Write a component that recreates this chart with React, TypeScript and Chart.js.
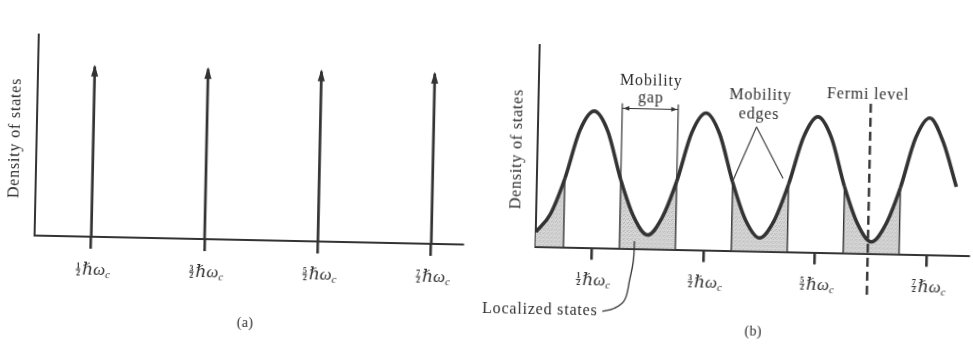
import React, { useEffect, useRef } from "react";
import { Chart, registerables } from "chart.js";

Chart.register(...registerables);

// ---------------- Panel (a): ideal Landau levels (delta functions) ----------------
const landauLevels = [0.5, 1.5, 2.5, 3.5]; // energy in units of ħω_c
const levelNumerators = ["1", "3", "5", "7"]; // tick labels: n/2 ħω_c
const deltaHeights = [8.45, 8.45, 8.45, 8.45];

// ---------------- Panel (b): broadened levels ----------------
const energyB = [
  0, 0.125, 0.25, 0.375, 0.5, 0.625, 0.75, 0.875, 1.0, 1.125, 1.25, 1.375, 1.5, 1.625, 1.75, 1.875,
  2.0, 2.125, 2.25, 2.375, 2.5, 2.625, 2.75, 2.875, 3.0, 3.125, 3.25, 3.375, 3.5, 3.625, 3.75,
];
const dosB = [
  0.72, 1.6, 3.4, 5.8, 6.78, 5.8, 3.4, 1.55, 0.69, 1.55, 3.38, 5.8, 6.8, 5.78, 3.4, 1.5,
  0.66, 1.5, 3.35, 5.7, 6.73, 5.7, 3.3, 1.45, 0.58, 1.45, 3.3, 5.75, 6.79, 5.6, 3.4,
];
const mobilityEdges = [0.25, 0.75, 1.25, 1.75, 2.25, 2.75, 3.25];
const localizedBands = [
  [0, 0.25],
  [0.75, 1.25],
  [1.75, 2.25],
  [2.75, 3.25],
];
const gapEdges = [0.75, 1.25];
const gapTop = 7.2;
const gapArrowLevel = 6.95;
const edgePointerX = [1.754, 1.953, 2.2];
const edgePointerY = [3.5, 6.17, 3.64];
const fermiLevel = 2.97;
const fermiSpan = [-2.05, 7.47];
const leaderX = [0.61, 0.717, 0.806, 0.847, 0.878, 0.883];
const leaderY = [-3.15, -2.98, -2.57, -1.58, -0.59, 0.37];
const labelsB = [
  { text: "Mobility", x: 1.0, y: 8.34 },
  { text: "gap", x: 1.0, y: 7.48 },
  { text: "Mobility", x: 1.98, y: 7.72 },
  { text: "edges", x: 1.97, y: 6.79 },
  { text: "Fermi level", x: 2.94, y: 7.9 },
];
const localizedLabel = { text: "Localized states", x: 0.56, y: -3.15 };

const INK = "#333333";
const TEXT = "#2e2e2e";
const SERIF = '"Liberation Serif", "DejaVu Serif", serif';

function dosAt(e: number) {
  const i = energyB.indexOf(e);
  return dosB[i];
}

function isLocalized(e: number) {
  return localizedBands.some(([a, b]) => e >= a && e <= b);
}

// draw text with manual letter spacing
function spacedText(
  ctx: CanvasRenderingContext2D,
  text: string,
  x: number,
  y: number,
  align: "left" | "center" | "right",
  spacing: number
) {
  const chars = Array.from(text);
  const widths = chars.map((c) => ctx.measureText(c).width);
  const total = widths.reduce((s, w) => s + w, 0) + spacing * (chars.length - 1);
  let cx = align === "left" ? x : align === "center" ? x - total / 2 : x - total;
  ctx.textAlign = "left";
  chars.forEach((c, i) => {
    ctx.fillText(c, cx, y);
    cx += widths[i] + spacing;
  });
}

function drawLevelLabel(ctx: CanvasRenderingContext2D, x: number, baseY: number, num: string) {
  ctx.save();
  ctx.fillStyle = TEXT;
  ctx.strokeStyle = TEXT;
  ctx.textBaseline = "alphabetic";
  ctx.textAlign = "center";
  ctx.font = `bold 8px ${SERIF}`;
  ctx.fillText(num, x - 12.5, baseY - 6.5);
  ctx.fillText("2", x - 12.5, baseY + 0.5);
  ctx.lineWidth = 0.8;
  ctx.beginPath();
  ctx.moveTo(x - 15, baseY - 5);
  ctx.lineTo(x - 10, baseY - 5);
  ctx.stroke();
  ctx.textAlign = "left";
  ctx.font = `italic 17px ${SERIF}`;
  ctx.fillText("ℏω", x - 8.5, baseY);
  const w = ctx.measureText("ℏω").width;
  ctx.font = `italic 11px ${SERIF}`;
  ctx.fillText("c", x - 8.5 + w, baseY + 3);
  ctx.restore();
}

function drawText(
  ctx: CanvasRenderingContext2D,
  text: string,
  x: number,
  y: number,
  align: "left" | "center" | "right" = "center",
  size = 16,
  spacing = 0.8
) {
  ctx.save();
  ctx.fillStyle = TEXT;
  ctx.font = `${size}px ${SERIF}`;
  ctx.textBaseline = "middle";
  spacedText(ctx, text, x, y, align, spacing);
  ctx.restore();
}

function drawYTitle(ctx: CanvasRenderingContext2D, x: number, y: number) {
  ctx.save();
  ctx.translate(x, y);
  ctx.rotate(-Math.PI / 2);
  ctx.fillStyle = TEXT;
  ctx.font = `16px ${SERIF}`;
  ctx.textBaseline = "middle";
  spacedText(ctx, "Density of states", 0, 0, "center", 0.8);
  ctx.restore();
}

function axisScales(xMax: number, tickValues: number[]) {
  return {
    x: {
      type: "linear" as const,
      min: 0,
      max: xMax,
      afterBuildTicks: (axis: any) => {
        axis.ticks = tickValues.map((value) => ({ value }));
      },
      ticks: { display: false },
      grid: {
        display: true,
        drawOnChartArea: false,
        drawTicks: true,
        tickLength: 12,
        color: INK,
        lineWidth: 2.6,
      },
      border: { display: true, color: INK, width: 2 },
    },
    y: {
      type: "linear" as const,
      min: 0,
      max: 10,
      ticks: { display: false },
      grid: { display: false, drawTicks: false, tickLength: 0 },
      border: { display: true, color: INK, width: 2 },
    },
  };
}

function makeStipple(): CanvasPattern | string {
  const c = document.createElement("canvas");
  c.width = 4;
  c.height = 4;
  const g = c.getContext("2d");
  if (!g) return "#cfcfcf";
  g.fillStyle = "#d6d6d6";
  g.fillRect(0, 0, 4, 4);
  g.fillStyle = "#b4b4b4";
  g.fillRect(0, 0, 1, 1);
  g.fillRect(2, 1, 1, 1);
  g.fillRect(1, 3, 1, 1);
  g.fillStyle = "#c6c6c6";
  g.fillRect(3, 3, 1, 1);
  const p = g.createPattern(c, "repeat");
  return p || "#cfcfcf";
}

function configA(): any {
  const datasets = landauLevels.map((lv, i) => ({
    data: [
      { x: lv, y: 0 },
      { x: lv, y: deltaHeights[i] },
    ],
    borderColor: INK,
    borderWidth: 2.7,
    pointRadius: 0,
    fill: false,
    borderCapStyle: "butt",
  }));
  const plugin = {
    id: "panelA",
    afterDatasetsDraw(chart: any) {
      const ctx = chart.ctx as CanvasRenderingContext2D;
      ctx.save();
      ctx.fillStyle = INK;
      landauLevels.forEach((_, i) => {
        const pt = chart.getDatasetMeta(i).data[1];
        ctx.beginPath();
        ctx.moveTo(pt.x, pt.y - 2);
        ctx.lineTo(pt.x - 3.6, pt.y + 10);
        ctx.lineTo(pt.x + 3.6, pt.y + 10);
        ctx.closePath();
        ctx.fill();
      });
      ctx.restore();
    },
    afterDraw(chart: any) {
      const ctx = chart.ctx as CanvasRenderingContext2D;
      const xs = chart.scales.x;
      const ys = chart.scales.y;
      const bottom = chart.chartArea.bottom;
      landauLevels.forEach((lv, i) => {
        drawLevelLabel(ctx, xs.getPixelForValue(lv), bottom + 38, levelNumerators[i]);
      });
      drawYTitle(ctx, chart.chartArea.left - 21.7, ys.getPixelForValue(4.8));
      drawText(ctx, "(a)", xs.getPixelForValue(1.87), bottom + 83, "center", 14, 0.3);
    },
  };
  return {
    type: "line",
    data: { datasets },
    options: {
      responsive: false,
      animation: false,
      devicePixelRatio: 1,
      layout: { padding: { left: 36, right: 973 - 464.5, top: 43.5, bottom: 344 - 245 - 12 } },
      plugins: { legend: { display: false }, tooltip: { enabled: false } },
      scales: axisScales(3.78, landauLevels),
    },
    plugins: [plugin],
  };
}

function configB(stipple: CanvasPattern | string): any {
  const line = (pts: { x: number; y: number }[], extra: any = {}) => ({
    data: pts,
    borderColor: INK,
    borderWidth: 1.4,
    pointRadius: 0,
    fill: false,
    ...extra,
  });
  const datasets: any[] = [];
  // 0: broadened density of states
  datasets.push({
    data: energyB.map((e, i) => ({ x: e, y: dosB[i] })),
    borderColor: INK,
    borderWidth: 3.6,
    pointRadius: 0,
    cubicInterpolationMode: "monotone",
    fill: "origin",
    backgroundColor: "rgba(0,0,0,0)",
    segment: {
      backgroundColor: (c: any) =>
        isLocalized((c.p0.parsed.x + c.p1.parsed.x) / 2) ? stipple : "rgba(0,0,0,0)",
    },
  });
  // mobility edge verticals
  mobilityEdges.forEach((e) => {
    datasets.push(line([{ x: e, y: 0 }, { x: e, y: dosAt(e) }]));
  });
  // mobility gap bracket
  gapEdges.forEach((e) => {
    datasets.push(line([{ x: e, y: dosAt(e) }, { x: e, y: gapTop }], { borderWidth: 1.2 }));
  });
  const gapArrowIndex = datasets.length;
  datasets.push(
    line([{ x: gapEdges[0], y: gapArrowLevel }, { x: gapEdges[1], y: gapArrowLevel }], { borderWidth: 1.1 })
  );
  // mobility edge pointers
  datasets.push(
    line(
      [
        { x: edgePointerX[1], y: edgePointerY[1] },
        { x: edgePointerX[0], y: edgePointerY[0] },
      ],
      { borderWidth: 1.1 }
    )
  );
  datasets.push(
    line(
      [
        { x: edgePointerX[1], y: edgePointerY[1] },
        { x: edgePointerX[2], y: edgePointerY[2] },
      ],
      { borderWidth: 1.1 }
    )
  );
  // Fermi level
  datasets.push(
    line(
      [
        { x: fermiLevel, y: fermiSpan[0] },
        { x: fermiLevel, y: fermiSpan[1] },
      ],
      { borderWidth: 2.4, borderDash: [9, 5], clip: false }
    )
  );
  // localized states leader
  datasets.push(
    line(
      leaderX.map((x, i) => ({ x, y: leaderY[i] })),
      { borderWidth: 1.3, tension: 0.4, clip: false }
    )
  );

  const plugin = {
    id: "panelB",
    afterDatasetsDraw(chart: any) {
      const ctx = chart.ctx as CanvasRenderingContext2D;
      const meta = chart.getDatasetMeta(gapArrowIndex);
      const p0 = meta.data[0];
      const p1 = meta.data[1];
      ctx.save();
      ctx.fillStyle = INK;
      ctx.beginPath();
      ctx.moveTo(p0.x + 1, p0.y);
      ctx.lineTo(p0.x + 7, p0.y - 2.4);
      ctx.lineTo(p0.x + 7, p0.y + 2.4);
      ctx.closePath();
      ctx.fill();
      ctx.beginPath();
      ctx.moveTo(p1.x - 1, p1.y);
      ctx.lineTo(p1.x - 7, p1.y - 2.4);
      ctx.lineTo(p1.x - 7, p1.y + 2.4);
      ctx.closePath();
      ctx.fill();
      ctx.restore();
    },
    afterDraw(chart: any) {
      const ctx = chart.ctx as CanvasRenderingContext2D;
      const xs = chart.scales.x;
      const ys = chart.scales.y;
      const bottom = chart.chartArea.bottom;
      landauLevels.forEach((lv, i) => {
        drawLevelLabel(ctx, xs.getPixelForValue(lv), bottom + 37, levelNumerators[i]);
      });
      labelsB.forEach((l) => drawText(ctx, l.text, xs.getPixelForValue(l.x), ys.getPixelForValue(l.y)));
      drawText(
        ctx,
        localizedLabel.text,
        xs.getPixelForValue(localizedLabel.x),
        ys.getPixelForValue(localizedLabel.y),
        "right"
      );
      drawYTitle(ctx, chart.chartArea.left - 20.5, ys.getPixelForValue(4.8));
      drawText(ctx, "(b)", xs.getPixelForValue(1.96), bottom + 81, "center", 14, 0.3);
    },
  };

  return {
    type: "line",
    data: { datasets },
    options: {
      responsive: false,
      animation: false,
      devicePixelRatio: 1,
      layout: { padding: { left: 537, right: 3, top: 44, bottom: 344 - 245.5 - 12 } },
      plugins: {
        legend: { display: false },
        tooltip: { enabled: false },
        filler: { drawTime: "beforeDatasetsDraw" },
      },
      scales: axisScales(3.87, landauLevels),
    },
    plugins: [plugin],
  };
}

export default function App() {
  const refA = useRef<HTMLCanvasElement>(null);
  const refB = useRef<HTMLCanvasElement>(null);

  useEffect(() => {
    if (!refA.current || !refB.current) return;
    const a = new Chart(refA.current, configA());
    const b = new Chart(refB.current, configB(makeStipple()));
    return () => {
      a.destroy();
      b.destroy();
    };
  }, []);

  const cv: React.CSSProperties = { position: "absolute", left: 0, top: 0, width: 973, height: 344 };
  return (
    <div
      style={{
        position: "fixed",
        left: 0,
        top: 0,
        width: 973,
        height: 344,
        background: "#ffffff",
        overflow: "hidden",
      }}
    >
      <div
        style={{
          position: "absolute",
          left: 0,
          top: 0,
          width: 973,
          height: 344,
          transform: "rotate(1.2deg)",
          transformOrigin: "486.5px 172px",
        }}
      >
        <canvas ref={refA} width={973} height={344} style={cv} />
        <canvas ref={refB} width={973} height={344} style={cv} />
      </div>
    </div>
  );
}
